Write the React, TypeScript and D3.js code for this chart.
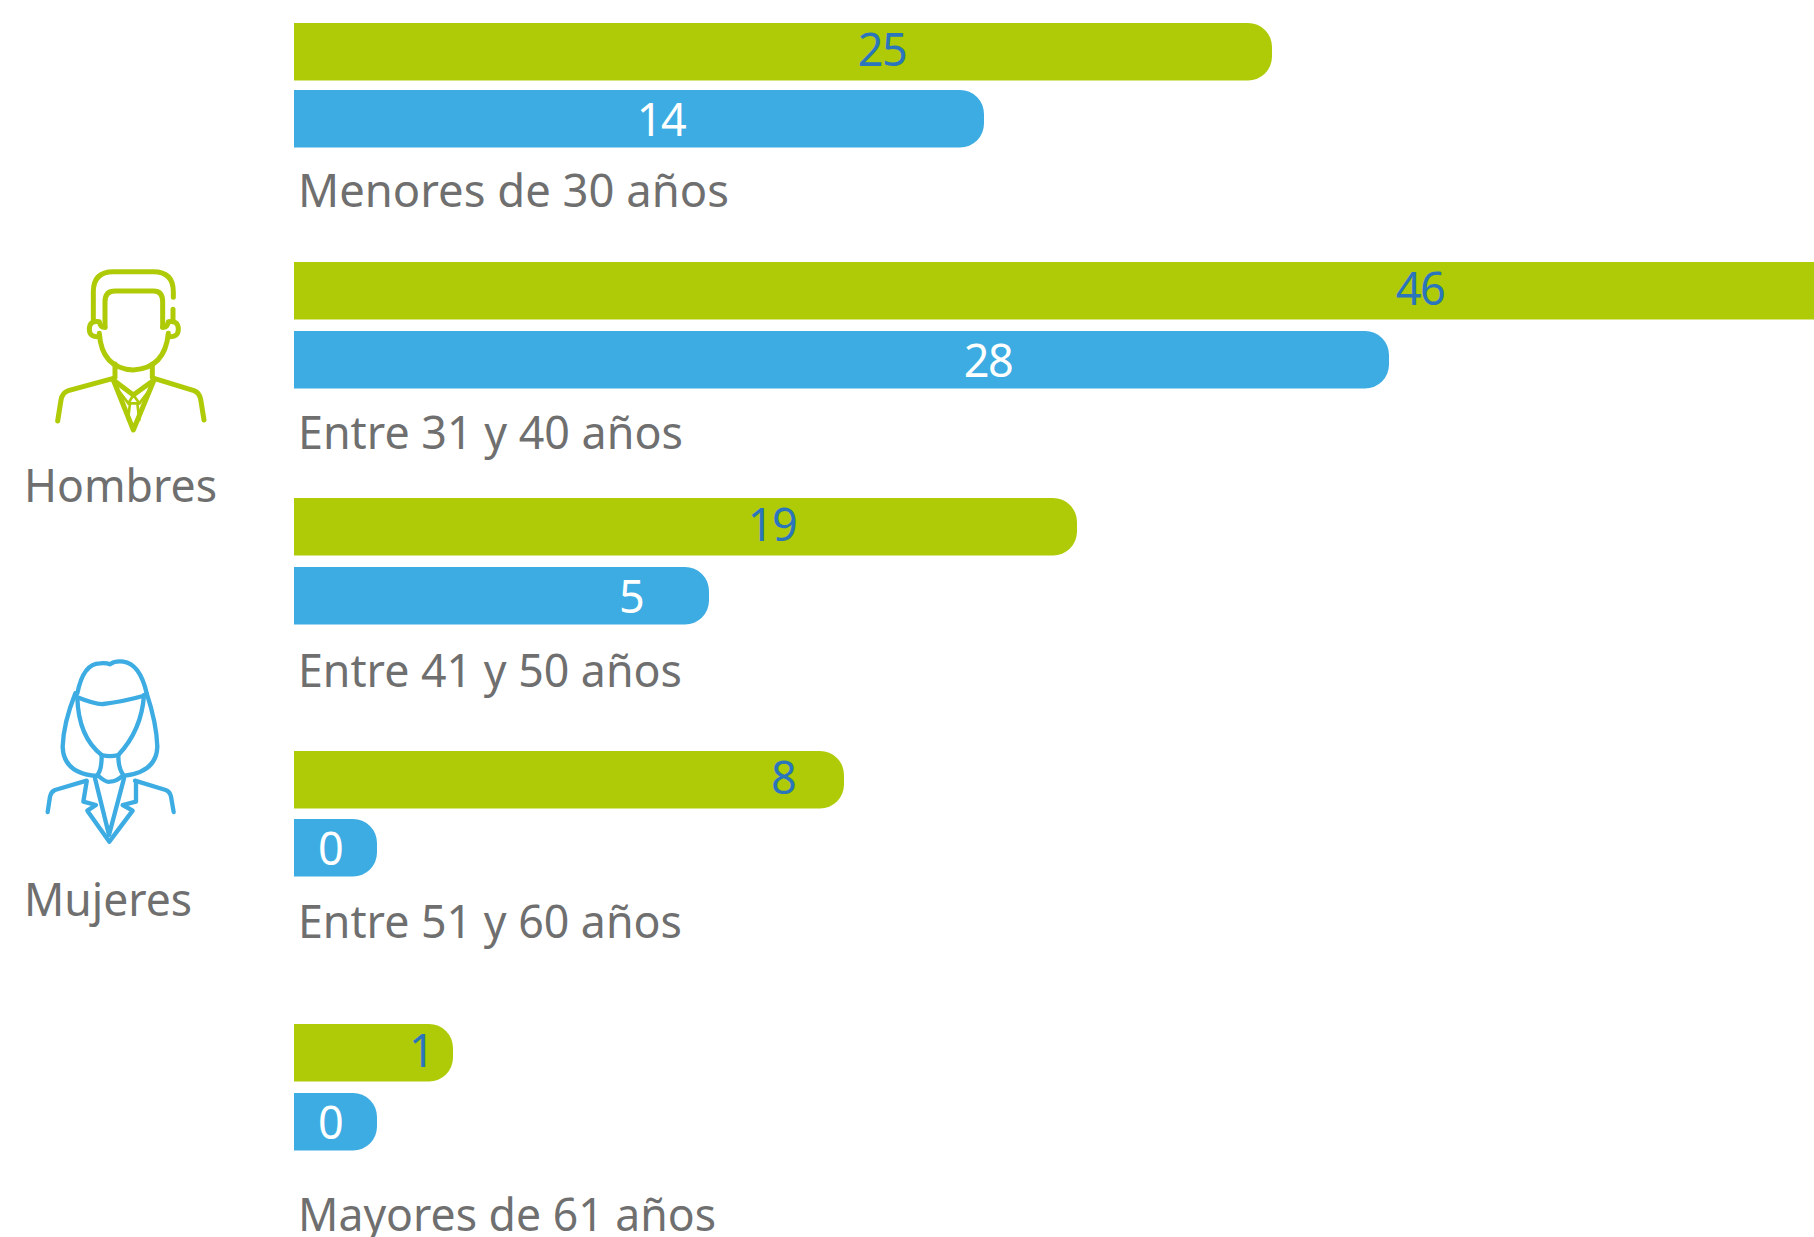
import { useEffect, useRef } from "react";
import * as d3 from "d3";

// Data
const categories = [
  "Menores de 30 años",
  "Entre 31 y 40 años",
  "Entre 41 y 50 años",
  "Entre 51 y 60 años",
  "Mayores de 61 años",
];
const hombres = [25, 46, 19, 8, 1];
const mujeres = [14, 28, 5, 0, 0];

// The original bars are not proportional, so the x scale goes through one knot per value
const scaleValues = [0, 1, 5, 8, 14, 19, 25, 28, 46];
const scaleEnds = [377, 453, 709, 844, 984, 1077, 1272, 1389, 1840];

// Layout
const barLeft = 294;
const barHeight = 57.5;
const greenTops = [23, 262, 498, 751, 1024];
const blueTops = [90, 331, 567, 819, 1093];
const labelBaselines = [207, 449, 687, 938, 1231];
const labelWidths = [431, 385, 384, 384, 418];
const greenTextX = [882, 1420, 772, 783, 421];
const blueTextX = [661, 988, 631, 330, 330];

const GREEN = "#afcb08";
const BLUE = "#3cace3";
const GREY = "#6f6f6f";
const DARKBLUE = "#2a75bb";
const FONT = "'Noto Sans', sans-serif";

const manPaths = [
  "M520 172 V155 Q520 95 460 95 H340 Q280 95 280 155 V245",
  "M519 208 V245",
  "M315 262 V185 Q315 153 345 153 H460 Q488 153 488 185 V262",
  "M315 262 Q300 262 298 245 Q268 240 268 268 Q268 292 298 290",
  "M488 262 Q503 262 505 245 Q535 240 535 268 Q535 292 505 290",
  "M298 280 Q305 385 400 390 Q495 385 505 280",
  "M345 372 V412",
  "M457 372 V412",
  "M173 543 L183 480 Q187 458 205 452 L340 415",
  "M612 540 L602 478 Q598 458 582 452 L462 415",
  "M340 420 L400 570 L462 420",
  "M340 420 L400 465 L462 420",
];
const manTie = [
  "M358 455 L385 490 L400 465 L418 490 L445 455",
  "M385 490 H418",
  "M390 490 L384 540",
  "M412 490 L418 540",
];
const womanPaths = [
  "M232 160 Q250 70 300 70 Q320 68 330 73 Q345 62 370 65 Q420 72 440 160",
  "M226 160 Q190 250 188 320 Q190 400 290 408",
  "M440 160 Q470 250 472 320 Q470 395 375 407",
  "M232 172 Q290 195 310 192 Q370 185 440 165",
  "M232 172 Q235 290 305 345 Q330 352 355 345 Q425 270 432 165",
  "M305 348 Q305 390 292 405 Q320 430 330 425 Q350 425 370 405 Q355 385 355 348",
  "M143 516 L150 470 Q153 455 165 450 L260 422",
  "M521 516 L513 470 Q510 455 497 450 L405 422",
  "M285 415 L327 585 L372 415",
  "M260 425 L250 485 L288 495 L262 512 L328 605 L398 512 L368 495 L408 485 L408 425",
];

function barPath(x0: number, x1: number, y: number, h: number, r: number) {
  const p = d3.path();
  p.moveTo(x0, y);
  p.lineTo(x1 - r, y);
  p.arcTo(x1, y, x1, y + r, r);
  p.lineTo(x1, y + h - r);
  p.arcTo(x1, y + h, x1 - r, y + h, r);
  p.lineTo(x0, y + h);
  p.closePath();
  return p.toString();
}

function App() {
  const ref = useRef<SVGSVGElement>(null);

  useEffect(() => {
    const svg = d3.select(ref.current);
    svg.selectAll("*").remove();

    const x = d3.scaleLinear().domain(scaleValues).range(scaleEnds);

    const rows = categories.map((name, i) => ({ name, h: hombres[i], m: mujeres[i], i }));
    const row = svg.selectAll("g.row").data(rows).enter().append("g").attr("class", "row");

    // Bars
    row
      .append("path")
      .attr("d", (d) => barPath(barLeft, x(d.h), greenTops[d.i], barHeight, 24))
      .attr("fill", GREEN);
    row
      .append("path")
      .attr("d", (d) => barPath(barLeft, x(d.m), blueTops[d.i], barHeight, 24))
      .attr("fill", BLUE);

    // Value labels
    const valueText = (sel: any) =>
      sel
        .attr("text-anchor", "middle")
        .attr("font-family", FONT)
        .attr("font-size", 45)
        .attr("letter-spacing", -1.5);
    row
      .append("text")
      .call(valueText)
      .attr("x", (d) => greenTextX[d.i])
      .attr("y", (d) => greenTops[d.i] + 43)
      .attr("fill", DARKBLUE)
      .text((d) => d.h);
    row
      .append("text")
      .call(valueText)
      .attr("x", (d) => blueTextX[d.i])
      .attr("y", (d) => blueTops[d.i] + 46)
      .attr("fill", "#fff")
      .text((d) => d.m);

    // Category labels
    row
      .append("text")
      .attr("x", barLeft + 4)
      .attr("y", (d) => labelBaselines[d.i])
      .attr("font-family", FONT)
      .attr("font-size", 46)
      .attr("textLength", (d) => labelWidths[d.i])
      .attr("lengthAdjust", "spacingAndGlyphs")
      .attr("fill", GREY)
      .text((d) => d.name);

    // Icons
    const icon = (paths: string[], color: string, dy: number, width: number) => {
      svg
        .append("g")
        .attr("transform", `translate(0, ${dy}) scale(${1 / 3})`)
        .attr("fill", "none")
        .attr("stroke", color)
        .attr("stroke-width", width)
        .attr("stroke-linecap", "round")
        .attr("stroke-linejoin", "round")
        .selectAll("path")
        .data(paths)
        .enter()
        .append("path")
        .attr("d", (d) => d);
    };
    icon(manPaths, GREEN, 240, 15);
    icon(manTie, GREEN, 240, 8);
    icon(womanPaths, BLUE, 640, 13);

    // Legend labels
    svg
      .append("text")
      .attr("x", 24)
      .attr("y", 502)
      .attr("font-family", FONT)
      .attr("font-size", 46)
      .attr("textLength", 193)
      .attr("lengthAdjust", "spacingAndGlyphs")
      .attr("fill", GREY)
      .text("Hombres");
    svg
      .append("text")
      .attr("x", 24)
      .attr("y", 916)
      .attr("font-family", FONT)
      .attr("font-size", 46)
      .attr("textLength", 168)
      .attr("lengthAdjust", "spacingAndGlyphs")
      .attr("fill", GREY)
      .text("Mujeres");
  }, []);

  return (
    <svg
      ref={ref}
      width={1814}
      height={1237}
      style={{ position: "absolute", left: 0, top: 0, background: "#fff" }}
    />
  );
}

export default App;
